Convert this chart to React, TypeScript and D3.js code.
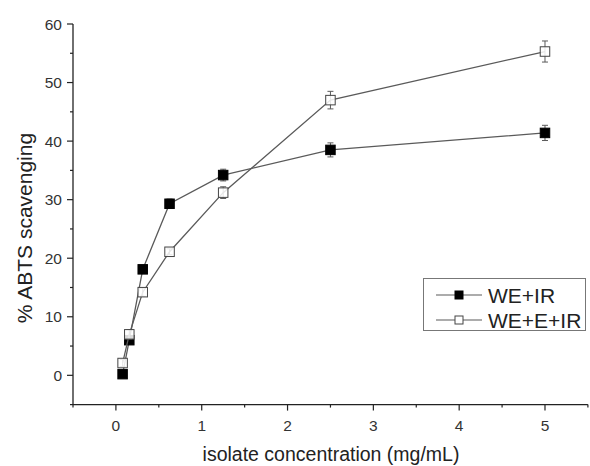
import React from "react";
import * as d3 from "d3";

const concentrations = [0.078, 0.156, 0.3125, 0.625, 1.25, 2.5, 5];
const weIr = [0.2, 6.0, 18.1, 29.3, 34.2, 38.5, 41.4];
const weIrErr = [0.4, 0.5, 0.6, 0.8, 1.0, 1.2, 1.3];
const weEIr = [2.1, 7.0, 14.2, 21.1, 31.2, 47.0, 55.3];
const weEIrErr = [0.6, 0.8, 0.7, 0.5, 1.0, 1.5, 1.8];
const xTicks = [0, 1, 2, 3, 4, 5];
const yTicks = [0, 10, 20, 30, 40, 50, 60];
const seriesNames = ["WE+IR", "WE+E+IR"];

export default function App() {
  const W = 590, H = 466;
  const x = d3.scaleLinear().domain([-0.5, 5.5]).range([73, 587.9]);
  const y = d3.scaleLinear().domain([-5, 60]).range([404.6, 24]);
  const line = d3.line<number>().x((_, i) => x(concentrations[i])).y((d) => y(d));
  const lineCol = "#5a5a5a";
  const font = "Liberation Sans, Arial, sans-serif";
  const ms = 9.5;
  const series = [
    { name: seriesNames[0], vals: weIr, err: weIrErr, fill: "#000" },
    { name: seriesNames[1], vals: weEIr, err: weEIrErr, fill: "#fff" },
  ];
  const xMinor = d3.range(-0.5, 5.51, 0.5);
  const yMinor = d3.range(-5, 60.1, 5);
  return (
    <svg width={W} height={H} style={{ position: "absolute", left: 0, top: 0 }} fontFamily={font}>
      <rect width={W} height={H} fill="#fff" />
      {/* axes */}
      <line x1={x(-0.5)} x2={x(5.5)} y1={y(-5)} y2={y(-5)} stroke="#222" strokeWidth={1.3} />
      <line x1={x(-0.5)} x2={x(-0.5)} y1={y(-5)} y2={y(60)} stroke="#222" strokeWidth={1.3} />
      {xMinor.map((t) => {
        const major = Math.abs(t - Math.round(t)) < 1e-6;
        return (
          <line key={"xt" + t} x1={x(t)} x2={x(t)} y1={y(-5)} y2={y(-5) + (major ? 6 : 3)} stroke="#222" strokeWidth={1.2} />
        );
      })}
      {yMinor.map((t) => {
        const major = t % 10 === 0;
        return (
          <line key={"yt" + t} x1={x(-0.5)} x2={x(-0.5) - (major ? 6 : 3)} y1={y(t)} y2={y(t)} stroke="#222" strokeWidth={1.2} />
        );
      })}
      {xTicks.map((t) => (
        <text key={"xl" + t} x={x(t)} y={430.5} fontSize={15.5} textAnchor="middle" fill="#333">{t}</text>
      ))}
      {yTicks.map((t) => (
        <text key={"yl" + t} x={62} y={y(t) + 5.5} fontSize={15.5} textAnchor="end" fill="#333">{t}</text>
      ))}
      <text x={331} y={460.5} fontSize={19.5} textAnchor="middle" fill="#222">isolate concentration (mg/mL)</text>
      <text transform={`translate(31.5,228) rotate(-90)`} fontSize={21} textAnchor="middle" fill="#222">% ABTS scavenging</text>
      {/* series */}
      {series.map((s, si) => (
        <g key={s.name}>
          <path d={line(s.vals) || ""} fill="none" stroke={lineCol} strokeWidth={1.3} />
          {s.vals.map((v, i) => (
            <g key={i}>
              <line x1={x(concentrations[i])} x2={x(concentrations[i])} y1={y(v - s.err[i])} y2={y(v + s.err[i])} stroke={lineCol} strokeWidth={1} />
              <line x1={x(concentrations[i]) - 3} x2={x(concentrations[i]) + 3} y1={y(v - s.err[i])} y2={y(v - s.err[i])} stroke={lineCol} strokeWidth={1} />
              <line x1={x(concentrations[i]) - 3} x2={x(concentrations[i]) + 3} y1={y(v + s.err[i])} y2={y(v + s.err[i])} stroke={lineCol} strokeWidth={1} />
              <rect x={x(concentrations[i]) - ms / 2} y={y(v) - ms / 2} width={ms} height={ms} fill={s.fill} stroke={si === 0 ? "#000" : "#444"} strokeWidth={1} fillOpacity={si === 1 ? 0.85 : 1} />
            </g>
          ))}
        </g>
      ))}
      {/* legend */}
      <rect x={423.5} y={278.5} width={162} height={52} fill="#fff" stroke="#777" strokeWidth={1} />
      {series.map((s, i) => {
        const cy = 295 + i * 25;
        return (
          <g key={"lg" + s.name}>
            <line x1={436} x2={482} y1={cy} y2={cy} stroke={lineCol} strokeWidth={1.2} />
            <rect x={459 - 4} y={cy - 4} width={8} height={8} fill={s.fill} stroke={i === 0 ? "#000" : "#444"} strokeWidth={1} />
            <text x={488} y={cy + 7.5} fontSize={21} fill="#222">{s.name}</text>
          </g>
        );
      })}
    </svg>
  );
}
